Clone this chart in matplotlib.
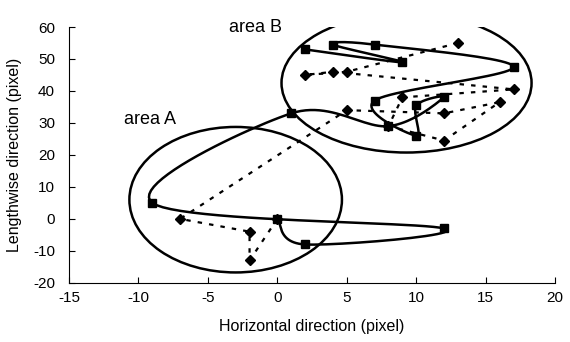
import numpy as np
import matplotlib.pyplot as plt
from matplotlib.patches import Ellipse

plt.rcParams['font.family'] = ['Liberation Sans', 'DejaVu Sans']
plt.rcParams['axes.unicode_minus'] = False

# solid trajectory (squares)
solid_x = [0, 2, 12, -9, 1, 8, 12, 10, 10, 7, 17, 7, 4, 9, 2]
solid_y = [0, -8, -3, 5, 33, 29, 38, 35.5, 26, 37, 47.5, 54.5, 54.5, 49, 53]

# dashed trajectory (diamonds)
dash_x = [0, -2, -2, -7, 5, 12, 16, 12, 8, 9, 17, 4, 2, 5, 13]
dash_y = [0, -13, -4, 0, 34, 33, 36.5, 24.5, 29, 38, 40.5, 46, 45, 46, 55]

# areas drawn as ellipses: (center x, center y, width, height)
area_a = (-3.0, 6.0, 15.3, 45.5)
area_b = (9.3, 42.5, 18.0, 43.5)

x_ticks = [-15, -10, -5, 0, 5, 10, 15, 20]
y_ticks = [-20, -10, 0, 10, 20, 30, 40, 50, 60]


def smooth(x, y, sx, sy, n=25):
    # bezier smoothing (like a spreadsheet "smoothed line") done in pixel space
    P = np.column_stack([np.asarray(x, float) * sx, np.asarray(y, float) * sy])
    out = [P[0]]
    t = np.linspace(0, 1, n)[1:, None]
    for i in range(len(P) - 1):
        p0 = P[i - 1] if i > 0 else P[i]
        p1, p2 = P[i], P[i + 1]
        p3 = P[i + 2] if i + 2 < len(P) else P[i + 1]
        c1 = p1 + (p2 - p0) / 6
        c2 = p2 - (p3 - p1) / 6
        seg = (1 - t) ** 3 * p1 + 3 * (1 - t) ** 2 * t * c1 + 3 * (1 - t) * t ** 2 * c2 + t ** 3 * p2
        out.extend(seg)
    out = np.array(out)
    return out[:, 0] / sx, out[:, 1] / sy


fig = plt.figure(figsize=(5.7, 3.42), dpi=100)
ax = fig.add_axes([0.121, 0.173, 0.853, 0.748])
ax.set_xlim(-15, 20)
ax.set_ylim(-20, 60)

# pixels per data unit, for smoothing
sx = 570 * 0.853 / 35
sy = 342 * 0.748 / 80

xs, ys = smooth(solid_x, solid_y, sx, sy)
ax.plot(xs, ys, color='black', lw=1.8, zorder=3)
ax.plot(solid_x, solid_y, ls='none', marker='s', ms=5.5, color='black', zorder=4)

ax.plot(dash_x, dash_y, color='black', lw=1.6, ls=(0, (2, 3.2)), zorder=2)
ax.plot(dash_x, dash_y, ls='none', marker='D', ms=5, color='black', zorder=4)

for cx, cy, w, h in (area_a, area_b):
    ax.add_patch(Ellipse((cx, cy), w, h, fill=False, lw=1.8, color='black', zorder=1))

ax.text(-9.2, 31, 'area A', fontsize=13, ha='center', va='center')
ax.text(-1.6, 60, 'area B', fontsize=13, ha='center', va='center')

ax.set_xticks(x_ticks)
ax.set_yticks(y_ticks)
ax.tick_params(direction='in', length=4, labelsize=11)
ax.tick_params(axis='y', pad=10)
ax.tick_params(axis='x', pad=6)
for s in ('top', 'right'):
    ax.spines[s].set_visible(False)
ax.set_xlabel('Horizontal direction (pixel)', fontsize=11.5, labelpad=10)
ax.set_ylabel('Lengthwise direction (pixel)', fontsize=11.5, labelpad=8)

fig.savefig('out.png', dpi=100)
